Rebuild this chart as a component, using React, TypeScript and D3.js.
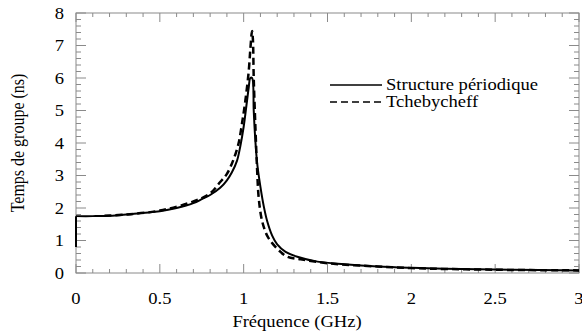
import * as d3 from 'd3'
import {useEffect, useRef} from 'react'

const freqSolid = [0, 0, 0.1, 0.2, 0.3, 0.4, 0.5, 0.6, 0.7, 0.75, 0.8, 0.86, 0.9, 0.93, 0.96, 0.98, 1.0, 1.02, 1.03, 1.04, 1.05, 1.06, 1.067, 1.08, 1.1, 1.12, 1.14, 1.17, 1.2, 1.25, 1.32, 1.44, 1.6, 1.8, 2.0, 2.3, 2.6, 3.0]
const delaySolid = [0.8, 1.75, 1.75, 1.76, 1.8, 1.85, 1.9, 2.0, 2.15, 2.27, 2.4, 2.62, 2.85, 3.1, 3.45, 3.9, 4.5, 5.3, 5.7, 6.0, 6.0, 5.0, 4.3, 3.4, 2.65, 2.05, 1.6, 1.15, 0.88, 0.65, 0.5, 0.35, 0.27, 0.2, 0.16, 0.12, 0.1, 0.08]

const freqDashed = [0.17, 0.3, 0.5, 0.7, 0.8, 0.86, 0.9, 0.94, 0.97, 0.99, 1.01, 1.03, 1.04, 1.05, 1.055, 1.06, 1.07, 1.08, 1.09, 1.11, 1.14, 1.17, 1.22, 1.26, 1.34, 1.5, 1.8, 2.0, 2.5, 3.0]
const delayDashed = [1.76, 1.8, 1.92, 2.2, 2.45, 2.8, 3.05, 3.5, 4.0, 4.6, 5.3, 6.2, 6.9, 7.45, 7.2, 6.0, 4.5, 3.2, 2.3, 1.6, 1.15, 0.92, 0.65, 0.5, 0.42, 0.3, 0.2, 0.15, 0.1, 0.08]

const xTicks = [0, 0.5, 1, 1.5, 2, 2.5, 3]
const xTickLabels = ['0', '0.5', '1', '1.5', '2', '2.5', '3']
const yTicks = [0, 1, 2, 3, 4, 5, 6, 7, 8]
const legendLabels = ['Structure périodique', 'Tchebycheff']

export default function App() {
  const ref = useRef<SVGSVGElement>(null)

  useEffect(() => {
    const width = 582
    const height = 333
    const margin = {top: 13, right: 3, bottom: 60, left: 76}
    const svg = d3.select(ref.current)
    svg.selectAll('*').remove()
    const font = 'Liberation Serif, Times New Roman, serif'
    const fontSize = 16
    // the original picture is stretched horizontally
    const stretch = 1.16

    const x = d3.scaleLinear().domain([0, 3]).range([margin.left, width - margin.right])
    const y = d3.scaleLinear().domain([0, 8]).range([height - margin.bottom, margin.top])
    const frameColor = '#8a8a8a'

    svg
      .append('rect')
      .attr('x', x(0))
      .attr('y', y(8))
      .attr('width', x(3) - x(0))
      .attr('height', y(0) - y(8))
      .attr('fill', 'none')
      .attr('stroke', frameColor)
      .attr('stroke-width', 1)

    // inward ticks on all four sides
    const ticks = svg.append('g').attr('stroke', frameColor).attr('stroke-width', 1)
    const xMinor = d3.range(0, 31).map(i => i / 10)
    for (const t of xMinor) {
      const major = Math.abs(t * 2 - Math.round(t * 2)) < 1e-6
      const len = major ? 9 : 4
      ticks.append('line').attr('x1', x(t)).attr('x2', x(t)).attr('y1', y(0)).attr('y2', y(0) - len)
      ticks.append('line').attr('x1', x(t)).attr('x2', x(t)).attr('y1', y(8)).attr('y2', y(8) + len)
    }
    const yMinor = d3.range(0, 41).map(i => i / 5)
    for (const t of yMinor) {
      const major = Math.abs(t - Math.round(t)) < 1e-6
      const len = major ? 10 : 5
      ticks.append('line').attr('y1', y(t)).attr('y2', y(t)).attr('x1', x(0)).attr('x2', x(0) + len)
      ticks.append('line').attr('y1', y(t)).attr('y2', y(t)).attr('x1', x(3)).attr('x2', x(3) - len)
    }

    const addText = (tx: number, ty: number, s: string, anchor: string, rotate = 0) =>
      svg
        .append('text')
        .attr('transform', `translate(${tx},${ty}) scale(${stretch},1)` + (rotate ? ` rotate(${rotate})` : ''))
        .attr('text-anchor', anchor)
        .attr('font-family', font)
        .attr('font-size', fontSize)
        .attr('fill', '#000')
        .text(s)

    xTicks.forEach((t, i) => addText(x(t), 304, xTickLabels[i], 'middle'))
    yTicks.forEach(t => addText(64, y(t) + 5.5, String(t), 'end'))

    addText(297, 327, 'Fréquence (GHz)', 'middle')
    addText(24, 143, 'Temps de groupe (ns)', 'middle', -90)

    // curves
    const line = d3
      .line<[number, number]>()
      .x(d => x(d[0]))
      .y(d => y(d[1]))
    const smooth = line.curve(d3.curveCatmullRom.alpha(0.5))
    const solidPts = freqSolid.map((f, i) => [f, delaySolid[i]] as [number, number])
    svg
      .append('path')
      .datum(solidPts.slice(0, 2))
      .attr('d', d3.line<[number, number]>().x(d => x(d[0])).y(d => y(d[1])))
      .attr('fill', 'none')
      .attr('stroke', '#000')
      .attr('stroke-width', 2)
    svg
      .append('path')
      .datum(solidPts.slice(1))
      .attr('d', smooth)
      .attr('fill', 'none')
      .attr('stroke', '#000')
      .attr('stroke-width', 2)
    svg
      .append('path')
      .datum(freqDashed.map((f, i) => [f, delayDashed[i]] as [number, number]))
      .attr('d', smooth)
      .attr('fill', 'none')
      .attr('stroke', '#000')
      .attr('stroke-width', 2.5)
      .attr('stroke-dasharray', '7,4')

    // legend
    const legend = svg.append('g')
    legend.append('line').attr('x1', 330).attr('x2', 382).attr('y1', 85).attr('y2', 85).attr('stroke', '#000').attr('stroke-width', 1.6)
    legend
      .append('line')
      .attr('x1', 330)
      .attr('x2', 384)
      .attr('y1', 102)
      .attr('y2', 102)
      .attr('stroke', '#000')
      .attr('stroke-width', 1.6)
      .attr('stroke-dasharray', '7,4')
    legendLabels.forEach((s, i) => addText(386, 89.5 + i * 17, s, 'start'))
  }, [])

  return <svg ref={ref} width={582} height={333} style={{position: 'absolute', left: 0, top: 0, background: '#fff'}} />
}
